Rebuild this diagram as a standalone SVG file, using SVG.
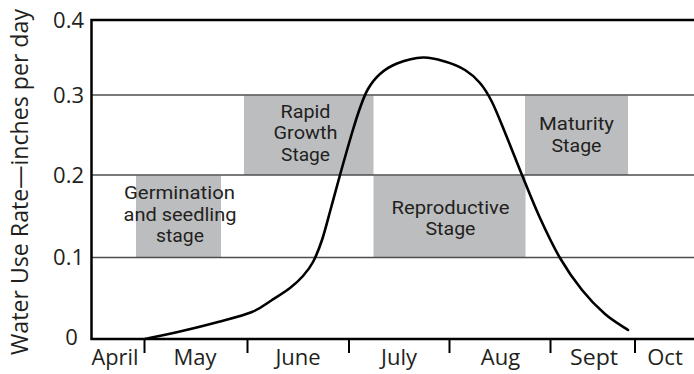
<svg xmlns="http://www.w3.org/2000/svg" width="694" height="374" viewBox="0 0 694 374">
<style>
text{font-family:"Open Sans","Liberation Sans",sans-serif;fill:#231f20}
.ax{font-size:22px}
.lbl{font-family:Roboto,"Liberation Sans",sans-serif;font-size:18px;text-anchor:middle}
.box{fill:#bcbdbf}
.grid{stroke:#4d4d4d;stroke-width:1.3;fill:none}
.axis{stroke:#000;stroke-width:2.5;fill:none}
.tick{stroke:#000;stroke-width:2;fill:none}
.curve{stroke:#000;stroke-width:2.6;fill:none;stroke-linecap:round;stroke-linejoin:round}
</style>
<rect width="694" height="374" fill="#fff"/>
<g id="stage-germination">
<rect class="box" x="136" y="175.5" width="85" height="82"/>
<text class="lbl" x="179.5" y="199" textLength="111" lengthAdjust="spacingAndGlyphs">Germination</text>
<text class="lbl" x="180" y="220.5" textLength="113" lengthAdjust="spacingAndGlyphs">and seedling</text>
<text class="lbl" x="180" y="242" textLength="48" lengthAdjust="spacingAndGlyphs">stage</text>
</g>
<g id="stage-rapid">
<rect class="box" x="244" y="95.5" width="129.5" height="79.5"/>
<text class="lbl" x="305.5" y="117.5" textLength="50" lengthAdjust="spacingAndGlyphs">Rapid</text>
<text class="lbl" x="305.5" y="139" textLength="64" lengthAdjust="spacingAndGlyphs">Growth</text>
<text class="lbl" x="305.5" y="160.5" textLength="49" lengthAdjust="spacingAndGlyphs">Stage</text>
</g>
<g id="stage-reproductive">
<rect class="box" x="373.5" y="175.5" width="152" height="82"/>
<text class="lbl" x="450.5" y="213.75" textLength="118" lengthAdjust="spacingAndGlyphs">Reproductive</text>
<text class="lbl" x="450.5" y="235.25" textLength="50" lengthAdjust="spacingAndGlyphs">Stage</text>
</g>
<g id="stage-maturity">
<rect class="box" x="525" y="95.5" width="103" height="79.5"/>
<text class="lbl" x="576.5" y="130" textLength="75" lengthAdjust="spacingAndGlyphs">Maturity</text>
<text class="lbl" x="576.5" y="151.5" textLength="50" lengthAdjust="spacingAndGlyphs">Stage</text>
</g>
<g id="grid">
<line class="grid" x1="91" y1="95" x2="694" y2="95"/>
<line class="grid" x1="91" y1="175" x2="694" y2="175"/>
<line class="grid" x1="91" y1="257.5" x2="694" y2="257.5"/>
</g>
<g id="axes">
<path class="axis" d="M694,20 H91.5 V339 H694"/>
<line class="tick" x1="144.5" y1="339" x2="144.5" y2="353"/>
<line class="tick" x1="247.5" y1="339" x2="247.5" y2="353"/>
<line class="tick" x1="349" y1="339" x2="349" y2="353"/>
<line class="tick" x1="449.5" y1="339" x2="449.5" y2="353"/>
<line class="tick" x1="550.5" y1="339" x2="550.5" y2="353"/>
<line class="tick" x1="635" y1="339" x2="635" y2="353"/>
<text class="ax" x="84" y="28" text-anchor="end">0.4</text>
<text class="ax" x="84" y="103" text-anchor="end">0.3</text>
<text class="ax" x="84" y="183" text-anchor="end">0.2</text>
<text class="ax" x="84" y="265" text-anchor="end">0.1</text>
<text class="ax" x="71.5" y="345" text-anchor="middle">0</text>
<text class="ax" x="115" y="365" text-anchor="middle" textLength="47" lengthAdjust="spacingAndGlyphs">April</text>
<text class="ax" x="195" y="365" text-anchor="middle">May</text>
<text class="ax" x="298" y="365" text-anchor="middle">June</text>
<text class="ax" x="399" y="365" text-anchor="middle">July</text>
<text class="ax" x="500.5" y="365" text-anchor="middle">Aug</text>
<text class="ax" x="594" y="365" text-anchor="middle" textLength="48" lengthAdjust="spacingAndGlyphs">Sept</text>
<text class="ax" x="665" y="365" text-anchor="middle">Oct</text>
<text class="ax" transform="translate(28,182) rotate(-90)" text-anchor="middle" style="font-size:23px" textLength="346" lengthAdjust="spacingAndGlyphs">Water Use Rate—inches per day</text>
</g>
<g id="connectors">
<path id="water-use-curve" class="curve" d="M145,339 C151.17,337.67 169.83,333.83 182,331 C194.17,328.17 206.33,325.17 218,322 C229.67,318.83 243,315.67 252,312 C261,308.33 265.67,304 272,300 C278.33,296 284.83,292 290,288 C295.17,284 299.17,280.33 303,276 C306.83,271.67 309.83,268 313,262 C316.17,256 319,249 322,240 C325,231 328,218.83 331,208 C334,197.17 336.5,187.5 340,175 C343.5,162.5 348.67,144.17 352,133 C355.33,121.83 357.33,115.33 360,108 C362.67,100.67 364.67,94.67 368,89 C371.33,83.33 375.17,78.25 380,74 C384.83,69.75 389.83,66.25 397,63.5 C404.17,60.75 415,57.83 423,57.5 C431,57.17 438,59.42 445,61.5 C452,63.58 459.17,66.42 465,70 C470.83,73.58 475.5,77.67 480,83 C484.5,88.33 487.67,93.33 492,102 C496.33,110.67 501,122.83 506,135 C511,147.17 516.33,161.17 522,175 C527.67,188.83 533.67,204.17 540,218 C546.33,231.83 553,246 560,258 C567,270 574.5,280.67 582,290 C589.5,299.33 597.33,307.33 605,314 C612.67,320.67 624.17,327.33 628,330"/>
</g>
</svg>
